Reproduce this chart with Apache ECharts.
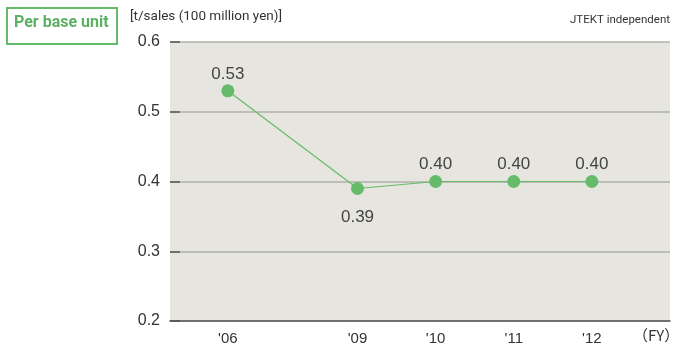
<!DOCTYPE html>
<html>
<head>
<meta charset="utf-8">
<script src="https://cdn.jsdelivr.net/npm/echarts@6/dist/echarts.min.js"></script>
<style>
  html, body { margin: 0; padding: 0; background: #fff; }
  #chart { width: 686px; height: 347px; }
</style>
</head>
<body>
<div id="chart"></div>
<script>
// Fiscal years and CO2 emissions per sales unit
const years = ["'06", "'09", "'10", "'11", "'12"];
const values = [0.53, 0.39, 0.40, 0.40, 0.40];
const yTicks = [0.2, 0.3, 0.4, 0.5, 0.6];

// Horizontal slot of each year on the x axis (the '06 → '09 gap is wider)
const slots = [0.74, 2.40, 3.40, 4.40, 5.40];

const green = '#66bb6a';
const textFont = 'Roboto, sans-serif';
const numFont = '"Liberation Sans", Arial, sans-serif';

const chart = echarts.init(document.getElementById('chart'));
chart.setOption({
  animation: false,
  grid: { left: 170, right: 16, top: 42, bottom: 26, show: true, backgroundColor: '#e6e5df', borderWidth: 0 },
  xAxis: {
    type: 'value',
    min: 0,
    max: 6.4,
    axisLine: { show: true, lineStyle: { color: '#555', width: 1.5 } },
    axisTick: { show: false },
    splitLine: { show: false },
    axisLabel: {
      customValues: slots,
      formatter: v => years[slots.indexOf(v)] || '',
      color: '#333', fontFamily: numFont, fontSize: 15, margin: 10
    }
  },
  yAxis: {
    type: 'value',
    min: yTicks[0],
    max: yTicks[yTicks.length - 1],
    interval: 0.1,
    axisLine: { show: false },
    axisTick: { show: true, inside: true, length: 10, lineStyle: { color: '#555', width: 1.5 } },
    splitLine: { show: true, lineStyle: { color: '#b0b0ab', width: 1.5 } },
    axisLabel: {
      formatter: v => v.toFixed(1),
      color: '#333', fontFamily: numFont, fontSize: 16, margin: 10
    }
  },
  series: [{
    type: 'line',
    data: values.map((v, i) => [slots[i], v]),
    symbol: 'circle',
    symbolSize: 13,
    itemStyle: { color: green },
    lineStyle: { color: green, width: 1.2 },
    label: {
      show: true,
      formatter: p => p.value[1].toFixed(2),
      position: 'top',
      distance: 2,
      color: '#444', fontFamily: numFont, fontSize: 17
    },
    labelLayout: p => p.dataIndex === 1 ? { dy: 46 } : {}
  }],
  graphic: [
    {
      type: 'rect', left: 6, top: 7,
      shape: { width: 110, height: 36 },
      style: { fill: '#fff', stroke: green, lineWidth: 2 }
    },
    {
      type: 'text', left: 14, top: 15,
      style: { text: 'Per base unit', fill: '#5cb063', font: 'bold 16px ' + textFont }
    },
    {
      type: 'text', left: 130, top: 10,
      style: { text: '[t/sales (100 million yen)]', fill: '#333', font: '13.5px ' + textFont }
    },
    {
      type: 'text', right: 16, top: 14,
      style: { text: 'JTEKT independent', fill: '#333', font: '11.5px ' + textFont }
    },
    {
      type: 'text', left: 633, top: 328,
      style: { text: '（FY）', fill: '#333', font: '15px "Noto Sans CJK JP", sans-serif' }
    }
  ]
});
</script>
</body>
</html>
